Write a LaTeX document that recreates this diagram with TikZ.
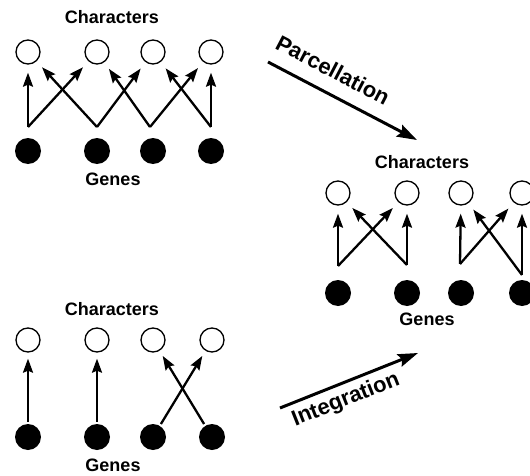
\documentclass[tikz,border=0pt]{standalone}
\usepackage{fontspec}
\setmainfont{Liberation Sans}
\usetikzlibrary{arrows.meta,positioning}

\begin{document}
\begin{tikzpicture}
[x=1pt,y=1pt]
\tikzset{
	character/.style = {circle, draw, line width=1.3pt, minimum size=24pt, inner sep=0},
	gene/.style = {circle, fill=black, minimum size=26pt, inner sep=0},
	tag/.style = {font=\fontsize{18}{20}\selectfont\bfseries, inner sep=0},
	link/.style = {line width=2.3pt, -{Stealth[length=14pt,width=10pt,inset=2pt]}, shorten >=8pt},
	process/.style = {line width=3pt, -{Stealth[length=20pt,width=13pt,inset=3pt]}},
	processtext/.style = {font=\fontsize{22}{24}\selectfont\bfseries, inner sep=0}
}
\useasboundingbox (0,0) rectangle (530,475);

% before: overlapping genes
\node (a-top) [tag] at (112,458) {Characters};
\node (a-c1) [character] at (28,423) {};
\node (a-c2) [character] at (97,423) {};
\node (a-c3) [character] at (153,423) {};
\node (a-c4) [character] at (211,423) {};
\node (a-g1) [gene] at (28,324) {};
\node (a-g2) [gene] at (97,324) {};
\node (a-g3) [gene] at (153,324) {};
\node (a-g4) [gene] at (211,324) {};
\node (a-bot) [tag] at (113,296) {Genes};
\coordinate (a-v1) at (28,348);
\coordinate (a-v2) at (97,348);
\coordinate (a-v3) at (150,348);
\coordinate (a-v4) at (211,348);

\path[link]
 (a-v1) edge (a-c1)
 (a-v1) edge (a-c2)
 (a-v2) edge (a-c1)
 (a-v2) edge (a-c3)
 (a-v3) edge (a-c2)
 (a-v3) edge (a-c4)
 (a-v4) edge (a-c3)
 (a-v4) edge (a-c4)
 ;

% after: two modules
\node (b-top) [tag] at (422,313) {Characters};
\node (b-c1) [character] at (338,282) {};
\node (b-c2) [character] at (407,282) {};
\node (b-c3) [character] at (461,282) {};
\node (b-c4) [character] at (522,282) {};
\node (b-g1) [gene] at (338,182) {};
\node (b-g2) [gene] at (407,182) {};
\node (b-g3) [gene] at (461,182) {};
\node (b-g4) [gene] at (522,182) {};
\node (b-bot) [tag] at (427,156) {Genes};
\coordinate (b-v1) at (338,209);
\coordinate (b-v2) at (407,210);
\coordinate (b-v3) at (460,211);
\coordinate (b-v4) at (522,200);

\path[link]
 (b-v1) edge (b-c1)
 (b-v1) edge (b-c2)
 (b-v2) edge (b-c2)
 (b-v2) edge (b-c1)
 (b-v3) edge (b-c3)
 (b-v3) edge (b-c4)
 (b-v4) edge (b-c4)
 (b-v4) edge (b-c3)
 ;

% before: one gene per character
\node (c-top) [tag] at (112,166) {Characters};
\node (c-c1) [character] at (28,135) {};
\node (c-c2) [character] at (97,135) {};
\node (c-c3) [character] at (153,135) {};
\node (c-c4) [character] at (212,135) {};
\node (c-g1) [gene] at (28,38) {};
\node (c-g2) [gene] at (97,38) {};
\node (c-g3) [gene] at (153,38) {};
\node (c-g4) [gene] at (212,38) {};
\node (c-bot) [tag] at (113,9.5) {Genes};

\path[link, shorten <=2pt, shorten >=6pt]
 (c-g1) edge (c-c1)
 (c-g2) edge (c-c2)
 (c-g3) edge (c-c4)
 (c-g4) edge (c-c3)
 ;

% processes
\coordinate (p-from) at (268,413);
\coordinate (p-to) at (417,335);
\draw[process] (p-from) -- (p-to);
\node (p-text) [processtext, rotate=-27.6] at (333,405) {Parcellation};

\coordinate (i-from) at (280,67);
\coordinate (i-to) at (418,122);
\draw[process] (i-from) -- (i-to);
\node (i-text) [processtext, rotate=21.7] at (346,75) {Integration};
\end{tikzpicture}
\end{document}
